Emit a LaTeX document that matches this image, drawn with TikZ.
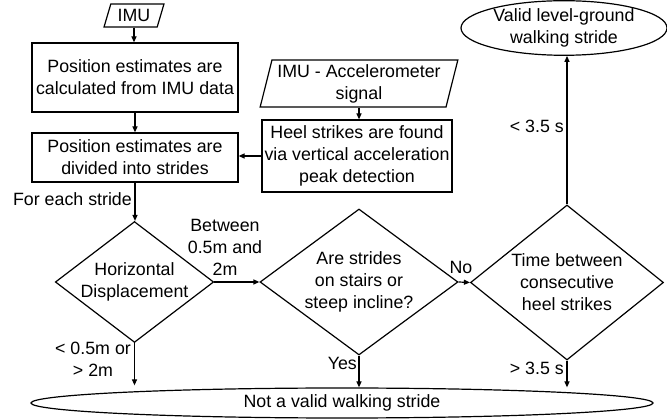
\documentclass[tikz,border=0pt]{standalone}
\usepackage{fontspec}
\setmainfont{Liberation Sans}
\usetikzlibrary{shapes.geometric,arrows.meta}
\begin{document}
\begin{tikzpicture}[x=1pt,y=-1pt,
  every node/.style={font=\fontsize{17.8}{22}\selectfont, align=center},
  base/.style={draw, line width=1.2pt, inner sep=0pt},
  procbox/.style={base, rectangle},
  iobox/.style={base, trapezium, trapezium stretches=true},
  decbox/.style={base, diamond},
  termbox/.style={base, ellipse},
  arr/.style={line width=1.2pt, -{Triangle[length=6pt,width=5pt]}},
  lbl/.style={inner sep=1pt}
]
\useasboundingbox (0,0) rectangle (667,419);

\node[iobox, trapezium left angle=69, trapezium right angle=111, minimum width=60, minimum height=23] (imu) at (134,15.5) {IMU};
\node[procbox, minimum width=206, minimum height=69] (calc) at (135,77.5) {Position estimates are\\calculated from IMU data};
\node[procbox, minimum width=206, minimum height=49] (div) at (135,157.5) {Position estimates are\\divided into strides};
\node[iobox, trapezium left angle=74, trapezium right angle=106, minimum width=198, minimum height=47] (acc) at (359,83.5) {IMU - Accelerometer\\signal};
\node[procbox, minimum width=190, minimum height=72] (heel) at (357,156) {Heel strikes are found\\via vertical acceleration\\peak detection};

\node[decbox, aspect=1.31, minimum width=155, minimum height=118] (hd) at (134.5,282) {Horizontal\\Displacement};
\node[decbox, aspect=1.356, minimum width=198, minimum height=146] (st) at (359,282) {Are strides\\on stairs or\\steep incline?};
\node[decbox, aspect=1.245, minimum width=193, minimum height=155] (tb) at (567,282.5) {Time between\\consecutive\\heel strikes};

\node[termbox, minimum width=206, minimum height=48] (valid) at (564,28) {Valid level-ground\\walking stride};
\node[termbox, minimum width=622, minimum height=30] (bad) at (342,403) {Not a valid walking stride};

\draw[arr] (imu.south) -- (imu.south |- calc.north);
\draw[arr] (calc.south) -- (calc.south |- div.north);
\draw[arr] (acc.south) -- (acc.south |- heel.north);
\draw[arr] (heel.west) -- (heel.west -| div.east);
\draw[arr] (div.south) -- (div.south |- hd.north);
\draw[arr] (hd.east) -- (st.west);
\draw[arr] (st.east) -- (tb.west);
\draw[arr] (tb.north) -- (tb.north |- valid.south);
\draw[arr] (hd.south) -- ([yshift=2pt]hd.south |- bad.north);
\draw[arr] (st.south) -- (st.south |- bad.north);
\draw[arr] (tb.south) -- (tb.south |- bad.north);

\node[lbl, anchor=east] (l1) at (133,199) {For each stride};
\node[lbl] (l2) at (225,247) {Between\\0.5m and\\2m};
\node[lbl] (l3) at (93,359) {< 0.5m or\\> 2m};
\node[lbl, anchor=east] (l4) at (358,363) {Yes};
\node[lbl] (l5) at (461,267) {No};
\node[lbl, anchor=east] (l6) at (565,368) {> 3.5 s};
\node[lbl, anchor=east] (l7) at (565,126) {< 3.5 s};
\end{tikzpicture}
\end{document}
